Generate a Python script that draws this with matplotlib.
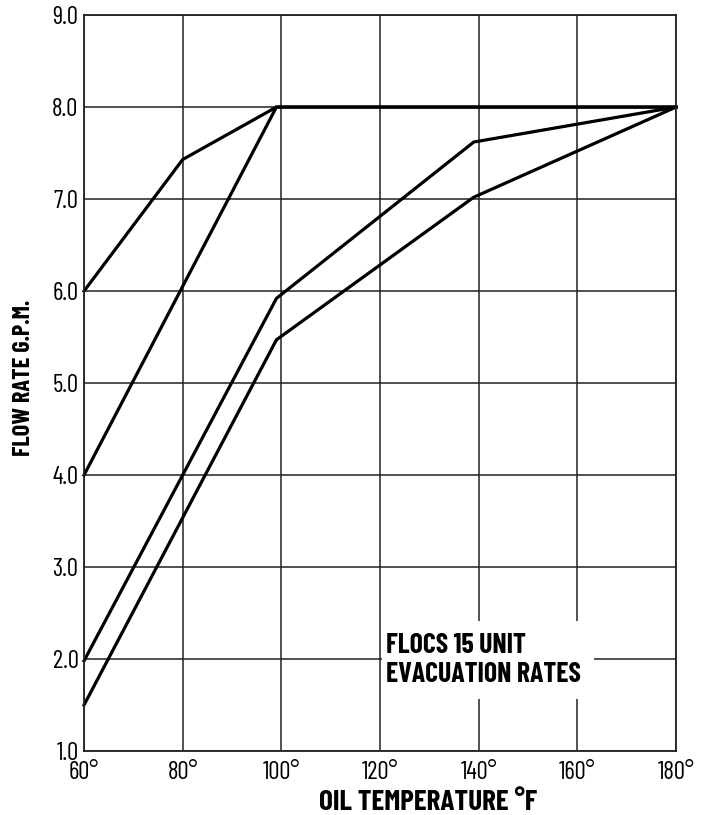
import matplotlib
matplotlib.use("Agg")
import matplotlib.pyplot as plt
from matplotlib.patches import Rectangle
from matplotlib import font_manager

# pick a narrow sans that has both regular and bold installed
candidates = ['Barlow Condensed', 'Roboto Condensed', 'PT Sans Narrow',
              'Liberation Sans Narrow']
weights = {}
for f in font_manager.fontManager.ttflist:
    weights.setdefault(f.name, set()).add(f.weight)
font_name = 'DejaVu Sans'
for c in candidates:
    w = weights.get(c, set())
    if 400 in w and any(x >= 700 for x in w):
        font_name = c
        break
plt.rcParams['font.family'] = [font_name, 'DejaVu Sans']

# temperatures (deg F) and flow rates (G.P.M.) for the four curves
temp_a = [60, 80, 99, 180]
flow_a = [6.0, 7.43, 8.0, 8.0]

temp_b = [60, 99, 180]
flow_b = [4.0, 8.0, 8.0]

temp_c = [60, 99, 139, 180]
flow_c = [1.98, 5.92, 7.62, 8.0]

temp_d = [60, 99, 139, 180]
flow_d = [1.5, 5.47, 7.02, 8.0]

x_ticks = [60, 80, 100, 120, 140, 160, 180]
y_ticks = [1.0, 2.0, 3.0, 4.0, 5.0, 6.0, 7.0, 8.0, 9.0]

fig = plt.figure(figsize=(7.09, 8.15), dpi=100)
ax = fig.add_axes([0.1185, 0.0785, 0.835, 0.903])

ax.set_xlim(60, 180)
ax.set_ylim(1, 9)
ax.set_xticks(x_ticks)
ax.set_xticklabels([f"{t}°" for t in x_ticks])
ax.set_yticks(y_ticks)
ax.set_yticklabels([f"{v:.1f}" for v in y_ticks])
ax.tick_params(axis='both', length=0, labelsize=18, colors='black')
ax.tick_params(axis='x', pad=7)
ax.tick_params(axis='y', pad=4)

ax.set_axisbelow(True)
ax.grid(True, color='#222222', linewidth=1.1)
for s in ax.spines.values():
    s.set_linewidth(1.3)
    s.set_color('#222222')

# white box behind the caption
ax.add_patch(Rectangle((120.4, 1.57), 43.0, 0.84, facecolor='white',
                       edgecolor='none', zorder=1))

for tx, fy in [(temp_a, flow_a), (temp_b, flow_b), (temp_c, flow_c), (temp_d, flow_d)]:
    ax.plot(tx, fy, color='black', linewidth=2.3, zorder=2,
            solid_joinstyle='miter', clip_on=False)

ax.text(121.2, 2.065, "FLOCS 15 UNIT", fontsize=20, fontweight='bold',
        va='baseline', ha='left', zorder=3)
ax.text(121.2, 1.75, "EVACUATION RATES", fontsize=20, fontweight='bold',
        va='baseline', ha='left', zorder=3)

fig.text(428 / 709, 1 - 802 / 815, "OIL TEMPERATURE °F", fontsize=21,
         fontweight='bold', ha='center', va='center')
fig.text(24 / 709, 1 - 378 / 815, "FLOW RATE G.P.M.", fontsize=17.5,
         fontweight='bold', ha='center', va='center', rotation=90)

fig.savefig("out.png", dpi=100)
